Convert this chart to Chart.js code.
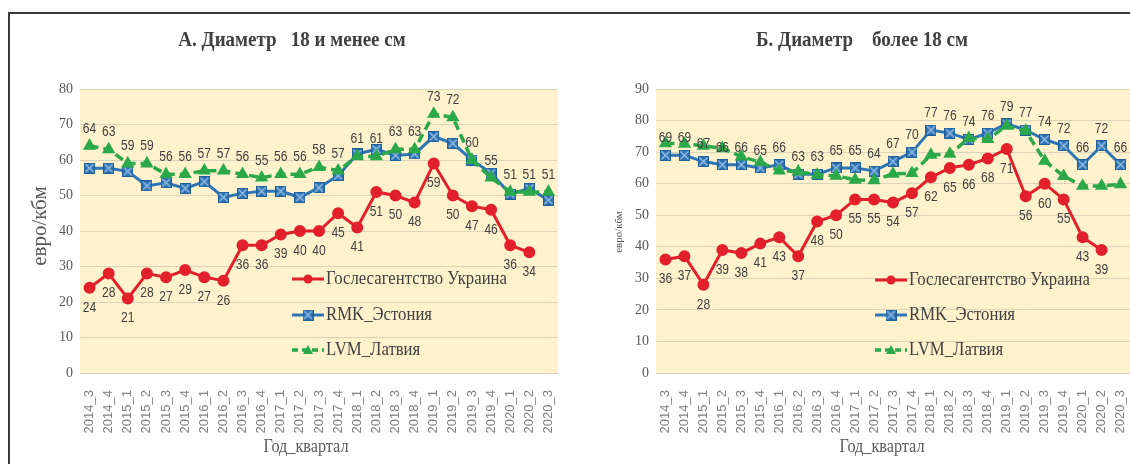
<!DOCTYPE html>
<html>
<head>
<meta charset="utf-8">
<script src="https://cdn.jsdelivr.net/npm/chart.js@4.4.0/dist/chart.umd.min.js"></script>
<style>
  body { margin: 0; background: #fff; }
  #wrap { position: relative; width: 1130px; height: 464px; overflow: hidden; }
  .rule { position: absolute; background: #3a3a3a; }
  canvas { position: absolute; top: 0; }
</style>
</head>
<body>
<div id="wrap">
  <div class="rule" style="left:8px;top:12px;width:1122px;height:2px"></div>
  <div class="rule" style="left:8px;top:12px;width:2px;height:452px"></div>
  <canvas id="chartA" width="565" height="464" style="left:0"></canvas>
  <canvas id="chartB" width="565" height="464" style="left:565px"></canvas>
</div>
<script>
const quarters = ['2014_3','2014_4','2015_1','2015_2','2015_3','2015_4','2016_1','2016_2','2016_3','2016_4',
  '2017_1','2017_2','2017_3','2017_4','2018_1','2018_2','2018_3','2018_4','2019_1','2019_2','2019_3','2019_4',
  '2020_1','2020_2','2020_3'];

// А. Диаметр 18 и менее см
const ukraineA = [24, 28, 21, 28, 27, 29, 27, 26, 36, 36, 39, 40, 40, 45, 41, 51, 50, 48, 59, 50, 47, 46, 36, 34, null];
const estoniaA = [57.7, 57.7, 56.8, 52.7, 53.6, 52, 53.9, 49.5, 50.6, 51.2, 51.2, 49.5, 52.2, 55.6, 61.7, 63, 61.3, 61.7, 66.6, 64.7, 60, 56.3, 50.4, 52, 48.7];
const latviaA  = [64, 63, 59, 59, 56, 56, 57, 57, 56, 55, 56, 56, 58, 57, 61, 61, 63, 63, 73, 72, 60, 55, 51, 51, 51];
const yTicksA = { min: 0, max: 80, step: 10 };

// Б. Диаметр более 18 см
const ukraineB = [36, 37, 28, 39, 38, 41, 43, 37, 48, 50, 55, 55, 54, 57, 62, 65, 66, 68, 71, 56, 60, 55, 43, 39, null];
const estoniaB = [69, 69, 67, 66, 66, 65, 66, 63, 63, 65, 65, 64, 67, 70, 77, 76, 74, 76, 79, 77, 74, 72, 66, 72, 66];
const latviaB  = [72.8, 72.6, 72, 71.2, 68.6, 66.8, 64.1, 63.8, 62.8, 62.5, 61.2, 61, 63.1, 63.3, 69.1, 69.4, 74.4, 74.1, 78.3, 76.7, 67.2, 62.4, 59.3, 59.3, 59.8];
const yTicksB = { min: 0, max: 90, step: 10 };

const seriesNames = ['Гослесагентство Украина', 'RMK_Эстония', 'LVM_Латвия'];

const RED = '#E2202C', BLUE = '#2E75B6', GREEN = '#2AA84A';

function boxMarker() {
  const c = document.createElement('canvas');
  c.width = 11; c.height = 11;
  const g = c.getContext('2d');
  g.fillStyle = BLUE; g.fillRect(0, 0, 11, 11);
  g.strokeStyle = '#9DC3E6'; g.lineWidth = 1.2;
  g.beginPath();
  g.moveTo(1.5, 1.5); g.lineTo(9.5, 9.5);
  g.moveTo(9.5, 1.5); g.lineTo(1.5, 9.5);
  g.stroke();
  g.strokeStyle = '#1F5F99'; g.lineWidth = 1;
  g.strokeRect(0.5, 0.5, 10, 10);
  return c;
}
const squareImg = boxMarker();

function squeezed(ctx, text, x, y, font, color, sx, align) {
  ctx.save();
  ctx.font = font;
  ctx.fillStyle = color;
  ctx.textBaseline = 'middle';
  ctx.textAlign = align || 'center';
  ctx.translate(x, y);
  ctx.scale(sx, 1);
  ctx.fillText(text, 0, 0);
  ctx.restore();
}

// фон области построения, заголовки, легенда
const decor = {
  id: 'decor',
  beforeDraw(chart) {
    const { ctx, chartArea: a } = chart;
    ctx.save();
    ctx.fillStyle = '#FFF2CC';
    ctx.fillRect(a.left, a.top, a.right - a.left, a.bottom - a.top);
    ctx.restore();
  },
  afterDraw(chart, args, o) {
    const ctx = chart.ctx;
    squeezed(ctx, o.title, o.titleX, 41, 'bold 20px "Liberation Serif"', '#404040', 0.95);
    squeezed(ctx, 'Год_квартал', o.xTitleX, 447, '18px "Liberation Serif"', '#595959', 0.9);

    ctx.save();
    ctx.translate(o.yTitleX, o.yTitleY);
    ctx.rotate(-Math.PI / 2);
    ctx.font = o.yTitleFont;
    ctx.fillStyle = '#595959';
    ctx.textAlign = 'center';
    ctx.textBaseline = 'middle';
    ctx.fillText('евро/кбм', 0, 0);
    ctx.restore();

    // легенда
    const lx = o.legendX;
    chart.data.datasets.forEach((ds, i) => {
      const y = o.legendY[i];
      ctx.save();
      ctx.strokeStyle = ds.borderColor;
      ctx.lineWidth = ds.borderWidth;
      if (ds.borderDash) ctx.setLineDash([6, 4]);
      ctx.beginPath();
      ctx.moveTo(lx, y); ctx.lineTo(lx + 32, y);
      ctx.stroke();
      ctx.setLineDash([]);
      const cx = lx + 16;
      ctx.fillStyle = ds.borderColor;
      if (ds.pointStyle === 'circle') {
        ctx.beginPath(); ctx.arc(cx, y, 4.5, 0, Math.PI * 2); ctx.fill();
      } else if (ds.pointStyle === 'triangle') {
        ctx.beginPath(); ctx.moveTo(cx, y - 5); ctx.lineTo(cx + 5, y + 4); ctx.lineTo(cx - 5, y + 4); ctx.closePath(); ctx.fill();
      } else {
        ctx.drawImage(squareImg, cx - 5.5, y - 5.5);
      }
      ctx.restore();
      squeezed(ctx, ds.label, lx + 34, y, '18px "Liberation Serif"', '#404040', 0.93, 'left');
    });
  }
};

// подписи значений
const valueLabels = {
  id: 'valueLabels',
  afterDatasetsDraw(chart) {
    const ctx = chart.ctx;
    chart.data.datasets.forEach((ds, i) => {
      if (!ds.labelPos) return;
      const meta = chart.getDatasetMeta(i);
      meta.data.forEach((pt, j) => {
        const v = ds.data[j];
        if (v == null) return;
        const dy = ds.labelPos === 'above' ? -17 : 20;
        squeezed(ctx, String(Math.round(v)), pt.x, pt.y + dy, '14px "Liberation Sans"', '#404040', 0.86);
      });
    });
  }
};

function makeChart(id, ukr, est, lat, yt, p) {
  return new Chart(document.getElementById(id), {
    type: 'line',
    data: {
      labels: quarters,
      datasets: [
        { label: seriesNames[0], data: ukr, borderColor: RED, backgroundColor: RED, borderWidth: 3,
          pointStyle: 'circle', pointRadius: 4.5, order: 2, labelPos: 'below' },
        { label: seriesNames[1], data: est, borderColor: BLUE, backgroundColor: BLUE, borderWidth: 3,
          pointStyle: squareImg, order: 1, labelPos: p.estLabels },
        { label: seriesNames[2], data: lat, borderColor: GREEN, backgroundColor: GREEN, borderWidth: 3.5,
          borderDash: [9, 5], pointStyle: 'triangle', pointRadius: 4.2, order: 0, labelPos: p.latLabels }
      ]
    },
    options: {
      responsive: false,
      animation: false,
      devicePixelRatio: 1,
      layout: { autoPadding: false, padding: { top: 89, right: p.padRight, left: 0, bottom: 0 } },
      plugins: {
        legend: { display: false },
        tooltip: { enabled: false },
        decor: p.decor
      },
      elements: { line: { tension: 0 } },
      scales: {
        x: {
          offset: true,
          grid: { display: false, offset: true },
          border: { display: false },
          ticks: { minRotation: 90, maxRotation: 90, autoSkip: false, padding: 9,
                   font: { family: 'Liberation Sans', size: 13 }, color: '#7f7f7f' },
          afterFit: s => { s.height = 91; s.paddingLeft = 0; s.paddingRight = 0; }
        },
        y: {
          min: yt.min, max: yt.max,
          grid: { color: '#DCD3B8', drawTicks: false },
          border: { display: false },
          ticks: { stepSize: yt.step, padding: 7,
                   font: { family: 'Liberation Serif', size: 14 }, color: '#595959' },
          afterFit: s => { s.width = p.yWidth; }
        }
      }
    },
    plugins: [decor, valueLabels]
  });
}

makeChart('chartA', ukraineA, estoniaA, latviaA, yTicksA, {
  estLabels: null, latLabels: 'above', padRight: 7, yWidth: 80,
  decor: { title: 'А. Диаметр   18 и менее см', titleX: 292, xTitleX: 306,
           yTitleX: 40, yTitleY: 226, yTitleFont: '21px "Liberation Serif"',
           legendX: 292, legendY: [279, 315, 350] }
});

makeChart('chartB', ukraineB, estoniaB, latviaB, yTicksB, {
  estLabels: 'above', latLabels: null, padRight: 0, yWidth: 91,
  decor: { title: 'Б. Диаметр    более 18 см', titleX: 297, xTitleX: 317,
           yTitleX: 54, yTitleY: 232, yTitleFont: '11px "Liberation Serif"',
           legendX: 310, legendY: [280, 315, 350] }
});
</script>
</body>
</html>
